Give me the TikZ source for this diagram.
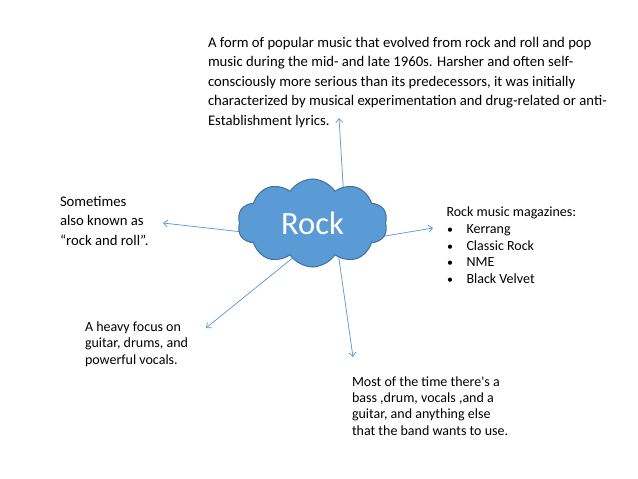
\documentclass[tikz,border=0pt]{standalone}
\usepackage{fontspec}
\setmainfont{Carlito}[Ligatures=TeXOff]
\usetikzlibrary{shapes.symbols,arrows.meta}
\definecolor{cloudfill}{HTML}{5B9BD5}
\definecolor{clouddraw}{HTML}{41719C}
\definecolor{arrowblue}{HTML}{5B9BD5}
\newcommand\lnsblk[2]{\vtop{\baselineskip=#1\relax\lineskiplimit=-100pt #2}}
\newcommand\bul[1]{\hbox{\makebox[20pt][l]{\hspace{0.5pt}\scalebox{0.85}{•}}#1}}
\tikzset{
  txt/.style={anchor=base west, inner sep=0pt, outer sep=0pt, text=black},
  big/.style={font=\fontsize{14.7}{19.5}\selectfont},
  small/.style={font=\fontsize{14.0}{16.6}\selectfont},
  conn/.style={draw=arrowblue, line width=0.75pt, -{Straight Barb[length=4pt,width=7pt]}},
  rockcloud/.style={cloud, cloud puffs=10, cloud puff arc=115, cloud ignores aspect,
    minimum width=150pt, minimum height=88pt, inner sep=0pt,
    fill=cloudfill, draw=clouddraw, line width=1pt, text=white,
    font=\fontsize{32.5}{38}\selectfont}
}
\begin{document}
\begin{tikzpicture}[x=1pt,y=-1pt]
\useasboundingbox (0,0) rectangle (638,479);
% texts
\node[txt,big] (top) at (208,47.5) {\lnsblk{19.5pt}{%
  \hbox{A form of popular music that evolved from rock and roll and pop}
  \hbox{music during the mid- and late 1960s. Harsher and often self-}
  \hbox{consciously more serious than its predecessors, it was initially}
  \hbox{characterized by musical experimentation and drug-related or anti-}
  \hbox{Establishment lyrics.}}};
\node[txt,big] (left) at (60,206) {\lnsblk{19.5pt}{%
  \hbox{Sometimes}
  \hbox{also known as}
  \hbox{“rock and roll”.}}};
\node[txt,small] (right) at (446.5,216.7) {\lnsblk{16.7pt}{%
  \hbox{Rock music magazines:}
  \bul{Kerrang}
  \bul{Classic Rock}
  \bul{NME}
  \bul{Black Velvet}}};
\node[txt,small] (botleft) at (85,331.5) {\lnsblk{16.3pt}{%
  \hbox{A heavy focus on}
  \hbox{guitar, drums, and}
  \hbox{powerful vocals.}}};
\node[txt,small] (bottom) at (352,386.5) {\lnsblk{16.2pt}{%
  \hbox{Most of the time there's a}
  \hbox{bass ,drum, vocals ,and a}
  \hbox{guitar, and anything else}
  \hbox{that the band wants to use.}}};
% connector ends
\coordinate (sUp) at (344,200);
\coordinate (tUp) at (339,118);
\coordinate (sLeft) at (255,233.4);
\coordinate (tLeft) at (163,223);
\coordinate (sRight) at (375,237.7);
\coordinate (tRight) at (433,228);
\coordinate (sDL) at (300,252);
\coordinate (tDL) at (206,328);
\coordinate (sDown) at (337,245);
\coordinate (tDown) at (353,357);
\draw[conn] (sUp) -- (tUp);
\draw[conn] (sLeft) -- (tLeft);
\draw[conn] (sRight) -- (tRight);
\draw[conn] (sDL) -- (tDL);
\draw[conn] (sDown) -- (tDown);
% cloud
\node[rockcloud] (rock) at (312.5,223) {Rock};
\end{tikzpicture}
\end{document}
